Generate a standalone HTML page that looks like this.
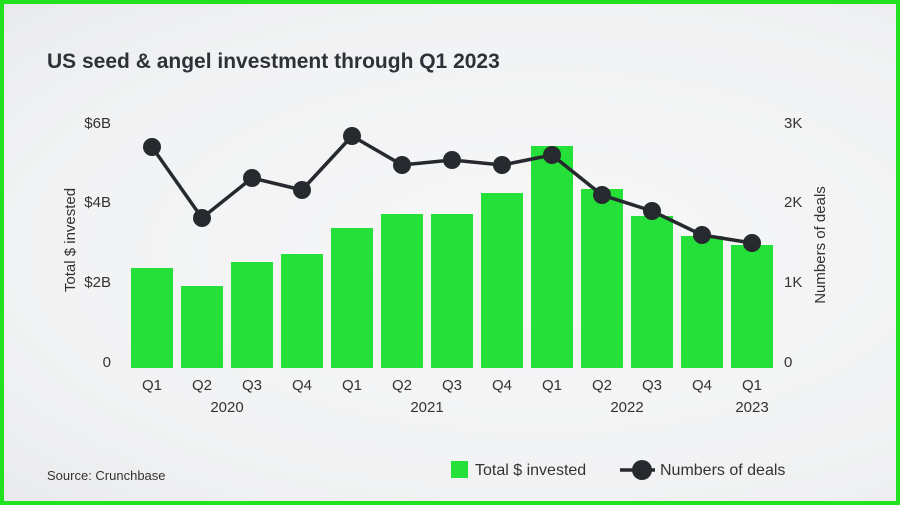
<!DOCTYPE html>
<html><head><style>
body{margin:0;}
.w{width:900px;height:505px;position:relative;box-sizing:border-box;border:4px solid #22e022;background:radial-gradient(ellipse at 60% 50%,#f7f7f8 0%,#f1f2f3 70%,#e9eaec 100%);overflow:hidden;font-family:"Liberation Sans",sans-serif;color:#333;}
</style></head><body><div class="w">
<svg width="900" height="505" style="position:absolute;left:-4px;top:-4px" font-family="Liberation Sans, sans-serif">
<text x="47" y="68" font-size="21" font-weight="bold" fill="#2d3239">US seed &amp; angel investment through Q1 2023</text>
<g font-size="15" fill="#333" text-anchor="end">
<text x="111" y="128">$6B</text><text x="111" y="207">$4B</text><text x="111" y="287">$2B</text><text x="111" y="367">0</text>
</g>
<g font-size="15" fill="#333" text-anchor="start">
<text x="784" y="128">3K</text><text x="784" y="207">2K</text><text x="784" y="287">1K</text><text x="784" y="367">0</text>
</g>
<text transform="translate(75,240) rotate(-90)" font-size="15" fill="#333" text-anchor="middle">Total $ invested</text>
<text transform="translate(825,245) rotate(-90)" font-size="15" fill="#333" text-anchor="middle">Numbers of deals</text>
<g fill="#26e03a">
<rect x="131" y="268" width="42" height="100"/>
<rect x="181" y="286" width="42" height="82"/>
<rect x="231" y="262" width="42" height="106"/>
<rect x="281" y="254" width="42" height="114"/>
<rect x="331" y="228" width="42" height="140"/>
<rect x="381" y="214" width="42" height="154"/>
<rect x="431" y="214" width="42" height="154"/>
<rect x="481" y="193" width="42" height="175"/>
<rect x="531" y="146" width="42" height="222"/>
<rect x="581" y="189" width="42" height="179"/>
<rect x="631" y="216" width="42" height="152"/>
<rect x="681" y="236" width="42" height="132"/>
<rect x="731" y="245" width="42" height="123"/>
</g>
<polyline fill="none" stroke="#26292e" stroke-width="3.5" points="152,147 202,218 252,178 302,190 352,136 402,165 452,160 502,165 552,155 602,195 652,211 702,235 752,243"/>
<g fill="#26292e">
<circle cx="152" cy="147" r="9"/><circle cx="202" cy="218" r="9"/><circle cx="252" cy="178" r="9"/><circle cx="302" cy="190" r="9"/><circle cx="352" cy="136" r="9"/><circle cx="402" cy="165" r="9"/><circle cx="452" cy="160" r="9"/><circle cx="502" cy="165" r="9"/><circle cx="552" cy="155" r="9"/><circle cx="602" cy="195" r="9"/><circle cx="652" cy="211" r="9"/><circle cx="702" cy="235" r="9"/><circle cx="752" cy="243" r="9"/>
</g>
<g font-size="15" fill="#333" text-anchor="middle">
<text x="152" y="390">Q1</text><text x="202" y="390">Q2</text><text x="252" y="390">Q3</text><text x="302" y="390">Q4</text><text x="352" y="390">Q1</text><text x="402" y="390">Q2</text><text x="452" y="390">Q3</text><text x="502" y="390">Q4</text><text x="552" y="390">Q1</text><text x="602" y="390">Q2</text><text x="652" y="390">Q3</text><text x="702" y="390">Q4</text><text x="752" y="390">Q1</text>
<text x="227" y="412">2020</text><text x="427" y="412">2021</text><text x="627" y="412">2022</text><text x="752" y="412">2023</text>
</g>
<text x="47" y="480" font-size="13" fill="#333">Source: Crunchbase</text>
<rect x="451" y="461" width="17" height="17" fill="#26e03a"/>
<text x="475" y="475" font-size="16" fill="#333">Total $ invested</text>
<line x1="620" y1="470" x2="655" y2="470" stroke="#26292e" stroke-width="3.5"/>
<circle cx="642" cy="470" r="10" fill="#26292e"/>
<text x="660" y="475" font-size="16" fill="#333">Numbers of deals</text>
</svg>
</div></body></html>
